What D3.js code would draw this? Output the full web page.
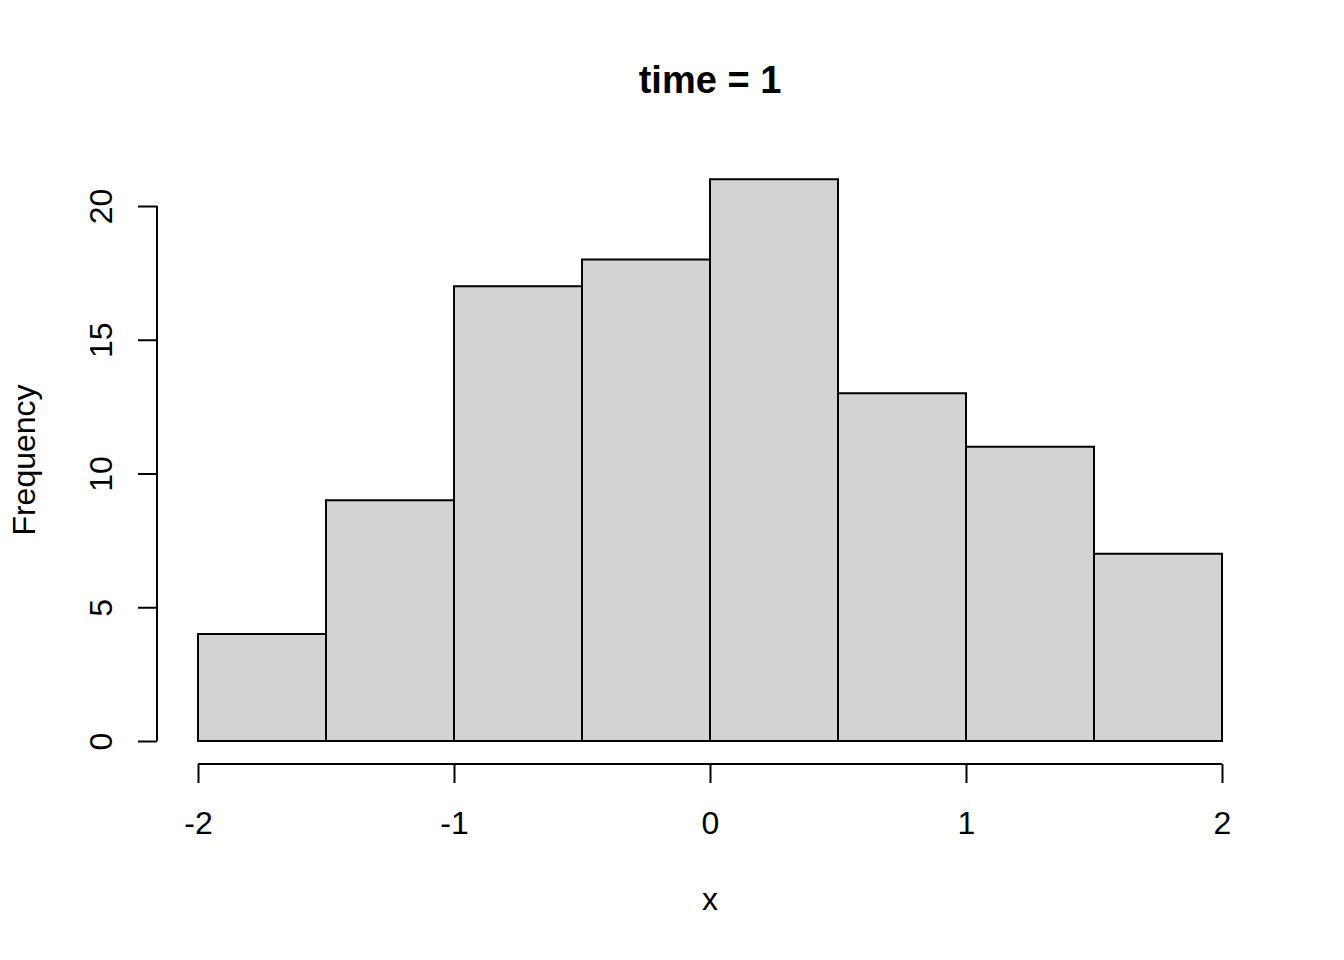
<html>
<head>
    <meta charset="utf-8">
    <title>time = 1</title>
    <script src="https://d3js.org/d3.v7.min.js"></script>
    <style>
        body { margin: 0; background: #fff; }
        text { font-family: "Liberation Sans", Arial, sans-serif; fill: #000; }
    </style>
</head>
<body>
    <svg id="hist" width="1344" height="960"></svg>
    <script>
        // bin edges and counts
        const binStarts = [-2, -1.5, -1, -0.5, 0, 0.5, 1, 1.5];
        const binWidth = 0.5;
        const counts = [4, 9, 17, 18, 21, 13, 11, 7];
        const xTicks = [-2, -1, 0, 1, 2];
        const yTicks = [0, 5, 10, 15, 20];

        const svg = d3.select("#hist");
        const x = d3.scaleLinear().domain([-2, 2]).range([198, 1222]);
        const y = d3.scaleLinear().domain([0, 20]).range([741, 206]);

        // title
        svg.append("text")
            .attr("x", 710).attr("y", 93)
            .attr("text-anchor", "middle")
            .style("font-size", "38px").style("font-weight", "bold")
            .text("time = 1");

        // bars
        svg.selectAll("rect.bar")
            .data(binStarts.map((s, i) => ({s, c: counts[i]})))
            .enter().append("rect")
            .attr("class", "bar")
            .attr("x", d => x(d.s))
            .attr("y", d => y(d.c))
            .attr("width", d => x(d.s + binWidth) - x(d.s))
            .attr("height", d => y(0) - y(d.c))
            .attr("fill", "#d3d3d3")
            .attr("stroke", "#000")
            .attr("stroke-width", 2);

        // x axis
        const xAxis = svg.append("g").attr("transform", "translate(0,764)")
            .call(d3.axisBottom(x).tickValues(xTicks).tickFormat(d => String(d))
                .tickSize(19).tickSizeOuter(0));
        xAxis.select(".domain").attr("stroke-width", 2).attr("d", `M${x(-2)},0H${x(2)}`);
        xAxis.selectAll(".tick line").attr("stroke-width", 2);
        xAxis.selectAll(".tick text").style("font-size", "32px").attr("font-family", null)
            .attr("dy", null).attr("y", 70);

        // y axis
        const yAxis = svg.append("g").attr("transform", "translate(157,0)")
            .call(d3.axisLeft(y).tickValues(yTicks).tickFormat(d => String(d))
                .tickSize(19).tickSizeOuter(0));
        yAxis.select(".domain").attr("stroke-width", 2).attr("d", `M0,${y(0)}V${y(20)}`);
        yAxis.selectAll(".tick line").attr("stroke-width", 2);
        yAxis.selectAll(".tick text")
            .style("font-size", "32px").attr("font-family", null)
            .attr("x", null).attr("dy", null)
            .attr("text-anchor", "middle")
            .attr("transform", "translate(-45,0) rotate(-90)");

        // axis titles
        svg.append("text")
            .attr("x", 710).attr("y", 910)
            .attr("text-anchor", "middle")
            .style("font-size", "32px")
            .text("x");
        svg.append("text")
            .attr("transform", "translate(35,460) rotate(-90)")
            .attr("text-anchor", "middle")
            .style("font-size", "32px")
            .text("Frequency");
    </script>
</body>
</html>
